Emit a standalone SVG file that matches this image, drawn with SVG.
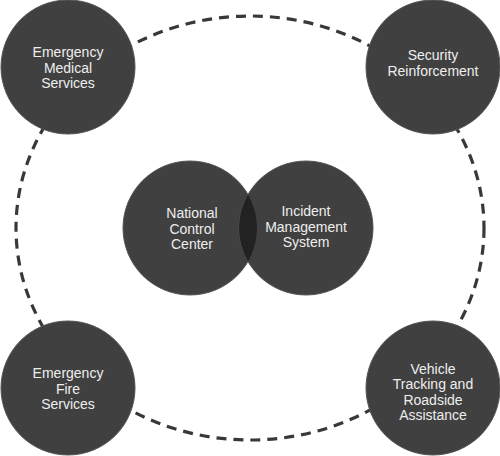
<svg xmlns="http://www.w3.org/2000/svg" width="500" height="456" viewBox="0 0 500 456">
<style>
.c{fill:#404040;stroke:#555;stroke-width:1}
.t{font-family:"Liberation Sans",Arial,sans-serif;font-size:14px;fill:#eeeeee;text-anchor:middle}
.d{fill:none;stroke:#383838;stroke-width:3.2;stroke-dasharray:10 7}
</style>
<rect width="500" height="456" fill="#fff"/>
<g id="connectors">
<ellipse class="d" cx="250" cy="228" rx="234" ry="212"/>
</g>
<g id="ems"><circle class="c" cx="68" cy="67" r="67"/>
<text class="t" x="68" y="57">Emergency</text><text class="t" x="68" y="73">Medical</text><text class="t" x="68" y="88">Services</text></g>
<g id="security"><circle class="c" cx="433" cy="67" r="67"/>
<text class="t" x="433" y="60">Security</text><text class="t" x="433" y="76">Reinforcement</text></g>
<g id="fire"><circle class="c" cx="68" cy="388" r="67"/>
<text class="t" x="68" y="378">Emergency</text><text class="t" x="68" y="394">Fire</text><text class="t" x="68" y="409">Services</text></g>
<g id="vehicle"><circle class="c" cx="433" cy="388" r="67"/>
<text class="t" x="433" y="374">Vehicle</text><text class="t" x="433" y="389">Tracking and</text><text class="t" x="433" y="405">Roadside</text><text class="t" x="433" y="420">Assistance</text></g>
<g id="ncc"><circle class="c" cx="190" cy="228" r="67"/>
<text class="t" x="192" y="218">National</text><text class="t" x="192" y="234">Control</text><text class="t" x="192" y="249">Center</text></g>
<g id="ims"><circle class="c" cx="306" cy="228" r="67"/>
<path d="M248,194.5 A67,67 0 0 1 248,261.5 A67,67 0 0 1 248,194.5 Z" fill="#222"/>
<text class="t" x="306" y="216">Incident</text><text class="t" x="306" y="232">Management</text><text class="t" x="306" y="247">System</text></g>
</svg>
